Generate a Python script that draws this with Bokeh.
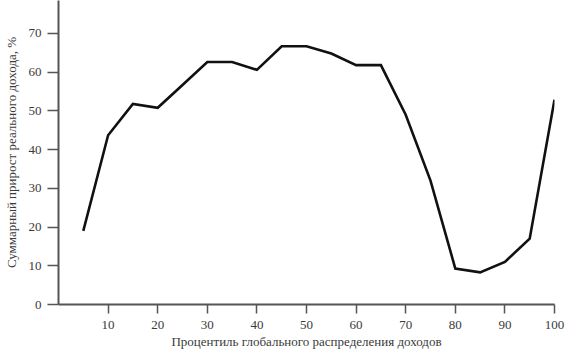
from bokeh.plotting import figure
from bokeh.models import Range1d, FixedTicker
from bokeh.embed import file_html
from bokeh.resources import INLINE

percentiles = [5, 10, 15, 20, 25, 30, 35, 40, 45, 50, 55, 60, 65, 70, 75, 80, 85, 90, 95, 100]
growth = [19, 43.7, 51.8, 50.8, 56.7, 62.6, 62.6, 60.6, 66.7, 66.7, 64.8, 61.8, 61.8, 49, 32, 9.3, 8.3, 11, 17, 52.9]
x_ticks = [10, 20, 30, 40, 50, 60, 70, 80, 90, 100]
y_ticks = [0, 10, 20, 30, 40, 50, 60, 70]

p = figure(width=567, height=351, output_backend="svg", toolbar_location=None,
           x_range=Range1d(0, 100), y_range=Range1d(0, 78.5),
           min_border_left=58, min_border_right=13, min_border_top=0, min_border_bottom=47)
p.outline_line_color = None
p.xgrid.grid_line_color = None
p.ygrid.grid_line_color = None
p.background_fill_color = "white"
p.border_fill_color = "white"

p.line(percentiles, growth, line_color="#111111", line_width=2.6, line_join="miter")

font = "Liberation Serif"
txt = "#3a3a3a"
for ax in (p.xaxis[0], p.yaxis[0]):
    ax.axis_line_color = "#555555"
    ax.axis_line_width = 2
    ax.major_tick_line_color = "#555555"
    ax.major_tick_line_width = 1.5
    ax.major_tick_in = 0
    ax.minor_tick_line_color = None
    ax.major_label_text_font = font
    ax.major_label_text_font_size = "13px"
    ax.major_label_text_color = txt
    ax.axis_label_text_font = font
    ax.axis_label_text_font_size = "13px"
    ax.axis_label_text_font_style = "normal"
    ax.axis_label_text_color = txt

p.xaxis.major_tick_out = 9
p.yaxis.major_tick_out = 11
p.xaxis.ticker = FixedTicker(ticks=x_ticks)
p.yaxis.ticker = FixedTicker(ticks=y_ticks)
p.xaxis.axis_label = "Процентиль глобального распределения доходов"
p.yaxis.axis_label = "Суммарный прирост реального дохода, %"
p.xaxis.major_label_standoff = 7
p.yaxis.major_label_standoff = 6
p.xaxis.axis_label_standoff = 2
p.yaxis.axis_label_standoff = 7

open("out.html", "w").write(file_html(p, INLINE))
